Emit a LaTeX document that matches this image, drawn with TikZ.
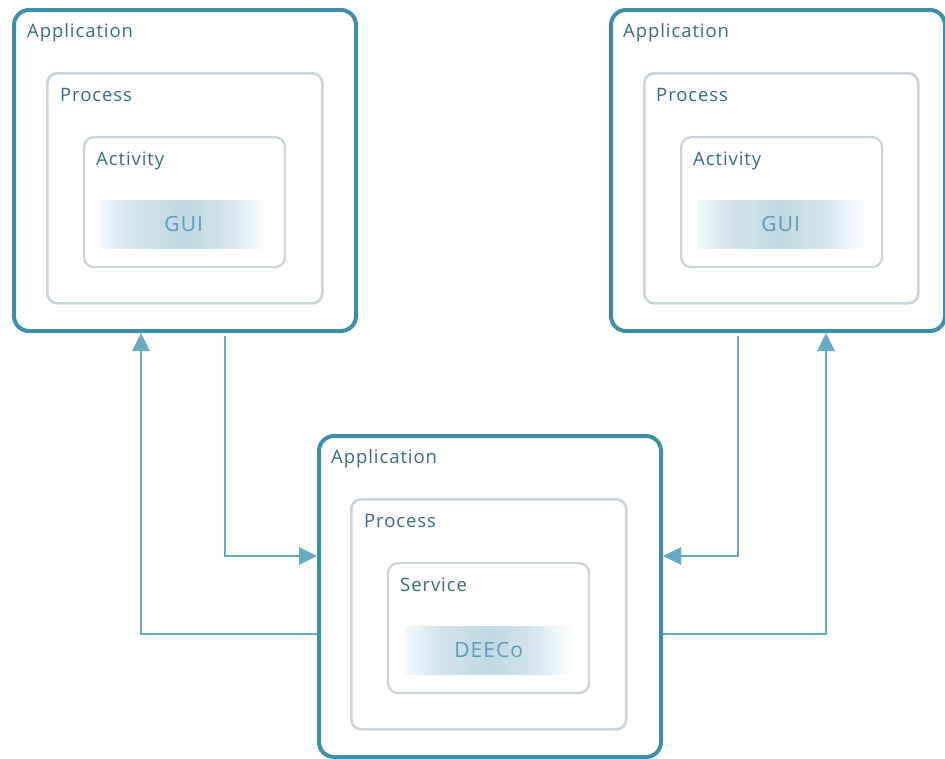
\documentclass[tikz,border=0pt]{standalone}
\usepackage{fontspec}
\setmainfont{Open Sans}
\newfontfamily\lblfont[LetterSpace=5]{Open Sans}
\usetikzlibrary{arrows.meta,calc}
\definecolor{appc}{HTML}{3F8EA8}
\definecolor{procc}{HTML}{C9D3D8}
\definecolor{txtc}{HTML}{3A6A7C}
\definecolor{connc}{HTML}{68A9C2}
\definecolor{bandc}{HTML}{C0D9E3}
\definecolor{bandt}{HTML}{5E9DB8}
\pgfdeclarehorizontalshading{bandsh}{100bp}{color(0bp)=(bandc!20); color(25bp)=(bandc!20); color(35bp)=(bandc!70); color(50bp)=(bandc); color(63bp)=(bandc!70); color(75bp)=(white); color(100bp)=(white)}
\tikzset{
  appbox/.style={draw=appc, line width=4pt, rounded corners=15pt, anchor=north west, minimum width=#1},
  procbox/.style={draw=procc, line width=2.6pt, rounded corners=10pt, anchor=north west},
  actbox/.style={draw=procc, line width=2.2pt, rounded corners=10pt, anchor=north west, minimum width=201pt, minimum height=130pt},
  lbl/.style={anchor=base west, text=txtc, font=\lblfont\fontsize{18.5pt}{20pt}\selectfont, inner sep=0pt},
  band/.style={anchor=north west, minimum width=167pt, minimum height=48pt, inner sep=0pt, shading=bandsh, text=bandt, font=\lblfont\fontsize{21pt}{23pt}\selectfont},
  conn/.style={draw=connc, line width=2.8pt, -{Triangle[length=18pt,width=17pt]}},
}
\begin{document}
\begin{tikzpicture}[x=1pt,y=-1pt]
\useasboundingbox (0,0) rectangle (945,758);
% left application
\node[appbox=342pt, minimum height=321pt] (la) at (12,8) {};
\node[procbox, minimum width=275pt, minimum height=230pt] (lp) at (46,72) {};
\node[actbox] (lac) at (83,136) {};
\node[band] (lg) at (100,200) {GUI};
\node[lbl] (lat) at (27,37) {Application};
\node[lbl] (lpt) at (60,101) {Process};
\node[lbl] (lact) at (96,165) {Activity};
% right application
\node[appbox=334pt, minimum height=321pt] (ra) at (609,8) {};
\node[procbox, minimum width=274pt, minimum height=230pt] (rp) at (643,72) {};
\node[actbox] (rac) at (680,136) {};
\node[band] (rg) at (697,200) {GUI};
\node[lbl] (rat) at (623,37) {Application};
\node[lbl] (rpt) at (656,101) {Process};
\node[lbl] (ract) at (693,165) {Activity};
% bottom application
\node[appbox=342pt, minimum height=321pt] (ba) at (317,434) {};
\node[procbox, minimum width=275pt, minimum height=230pt] (bp) at (350,498) {};
\node[actbox] (bs) at (387,562) {};
\node[band] (bg) at (405,626) {DEECo};
\node[lbl] (bat) at (331,463) {Application};
\node[lbl] (bpt) at (364,527) {Process};
\node[lbl] (bst) at (400,591) {Service};
% helper coordinates
\coordinate (x1) at (225,0);
\coordinate (x2) at (141,0);
\coordinate (x3) at (738,0);
\coordinate (x4) at (826,0);
\coordinate (ya) at (0,556);
\coordinate (yb) at (0,634);
\coordinate (ys) at (0,336);
% connectors
\draw[conn] (x1 |- ys) |- (ba.west |- ya);
\draw[conn] (ba.west |- yb) -| (x2 |- la.south);
\draw[conn] (x3 |- ys) |- (ba.east |- ya);
\draw[conn] (ba.east |- yb) -| (x4 |- ra.south);
\end{tikzpicture}
\end{document}
